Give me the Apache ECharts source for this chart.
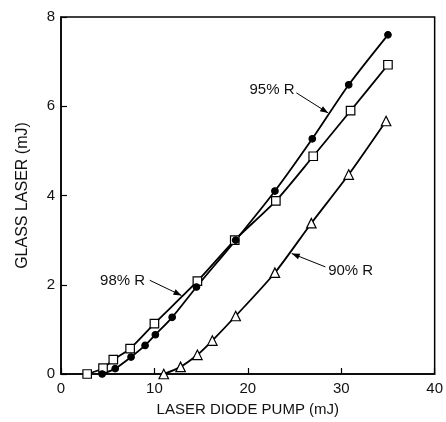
<!DOCTYPE html>
<html>
<head>
<meta charset="utf-8">
<script src="https://cdn.jsdelivr.net/npm/echarts@6/dist/echarts.min.js"></script>
<style>
  html, body { margin: 0; padding: 0; background: #fff; overflow: hidden; }
  #main { width: 446px; height: 422px; }
</style>
</head>
<body>
<div id="main"></div>
<script>
// pump energy (mJ) and output energy (mJ) for each mirror reflectivity
const pump95 = [4.4, 5.8, 7.5, 9.0, 10.1, 11.9, 14.5, 18.7, 22.9, 26.9, 30.8, 35.0];
const out95 = [0, 0.12, 0.38, 0.64, 0.88, 1.27, 1.95, 3.0, 4.1, 5.27, 6.48, 7.6];

const pump98 = [2.8, 4.5, 5.6, 7.4, 10.0, 14.6, 18.6, 23.0, 27.0, 31.0, 35.0];
const out98 = [0, 0.13, 0.32, 0.57, 1.13, 2.08, 3.0, 3.88, 4.88, 5.9, 6.93];

const pump90 = [11.0, 12.8, 14.6, 16.2, 18.7, 22.9, 26.8, 30.8, 34.8];
const out90 = [0, 0.16, 0.43, 0.75, 1.3, 2.27, 3.38, 4.47, 5.67];

const xTicks = [0, 10, 20, 30, 40];
const yTicks = [0, 2, 4, 6, 8];

// callout labels: text, text anchor, arrow start, arrow end (data coords)
const labels = ['95% R', '98% R', '90% R'];
const labelAt = [[25.0, 6.37], [9.0, 2.09], [28.6, 2.31]];
const labelAlign = ['right', 'right', 'left'];
const arrowFrom = [[25.2, 6.3], [9.5, 2.1], [28.3, 2.4]];
const arrowTo = [[28.6, 5.85], [12.9, 1.76], [24.7, 2.7]];

const font = '"Liberation Sans", Arial, sans-serif';

function zip(a, b) {
  return a.map((v, i) => [v, b[i]]);
}

const chart = echarts.init(document.getElementById('main'), null, {renderer: 'canvas', width: 446, height: 422});

function lineSeries(name, xs, ys, symbol, size, fill) {
  return {
    name: name,
    type: 'line',
    data: zip(xs, ys),
    smooth: 0.25,
    symbol: symbol,
    symbolSize: size,
    showAllSymbol: true,
    lineStyle: {color: '#000', width: 1.8},
    itemStyle: {color: fill, borderColor: '#000', borderWidth: 1.2},
    z: 3,
    animation: false
  };
}

const option = {
  animation: false,
  grid: {
    left: 61, right: 9, top: 17, bottom: 48,
    show: true, borderColor: '#000', borderWidth: 1.5, backgroundColor: 'transparent'
  },
  xAxis: {
    type: 'value',
    min: xTicks[0],
    max: xTicks[xTicks.length - 1],
    interval: 10,
    name: 'LASER DIODE PUMP (mJ)',
    nameLocation: 'middle',
    nameGap: 28,
    nameTextStyle: {color: '#111', fontSize: 15, fontFamily: font},
    axisLine: {lineStyle: {color: '#000', width: 1.5}},
    axisTick: {inside: true, length: 6, lineStyle: {color: '#000', width: 1.2}},
    axisLabel: {color: '#111', fontSize: 15, fontFamily: font, margin: 7},
    splitLine: {show: false}
  },
  yAxis: {
    type: 'value',
    min: yTicks[0],
    max: yTicks[yTicks.length - 1],
    interval: 2,
    name: 'GLASS LASER (mJ)',
    nameLocation: 'middle',
    nameGap: 30,
    nameTextStyle: {color: '#111', fontSize: 16, fontFamily: font},
    axisLine: {lineStyle: {color: '#000', width: 1.5}},
    axisTick: {inside: true, length: 6, lineStyle: {color: '#000', width: 1.2}},
    axisLabel: {color: '#111', fontSize: 15, fontFamily: font, margin: 6},
    splitLine: {show: false}
  },
  series: [
    lineSeries('98% R', pump98, out98, 'rect', 8.5, '#fff'),
    lineSeries('95% R', pump95, out95, 'circle', 6.5, '#000'),
    lineSeries('90% R', pump90, out90, 'triangle', 9.5, '#fff')
  ]
};

chart.setOption(option);

// callouts placed through the chart's own coordinate conversion
const graphics = [];
labels.forEach((txt, i) => {
  const p = chart.convertToPixel({gridIndex: 0}, labelAt[i]);
  const a = chart.convertToPixel({gridIndex: 0}, arrowFrom[i]);
  const b = chart.convertToPixel({gridIndex: 0}, arrowTo[i]);
  graphics.push({
    type: 'text',
    x: p[0], y: p[1],
    style: {text: txt, fill: '#111', font: '15px ' + font, align: labelAlign[i], verticalAlign: 'middle'},
    z: 10
  });
  graphics.push({
    type: 'line',
    shape: {x1: a[0], y1: a[1], x2: b[0], y2: b[1]},
    style: {stroke: '#000', lineWidth: 1},
    z: 10
  });
  // arrow head
  const ang = Math.atan2(b[1] - a[1], b[0] - a[0]);
  const L = 8, W = 3;
  const bx = b[0] - L * Math.cos(ang), by = b[1] - L * Math.sin(ang);
  graphics.push({
    type: 'polygon',
    shape: {points: [
      [b[0], b[1]],
      [bx - W * Math.sin(ang), by + W * Math.cos(ang)],
      [bx + W * Math.sin(ang), by - W * Math.cos(ang)]
    ]},
    style: {fill: '#000'},
    z: 10
  });
});
chart.setOption({graphic: graphics});
</script>
</body>
</html>
